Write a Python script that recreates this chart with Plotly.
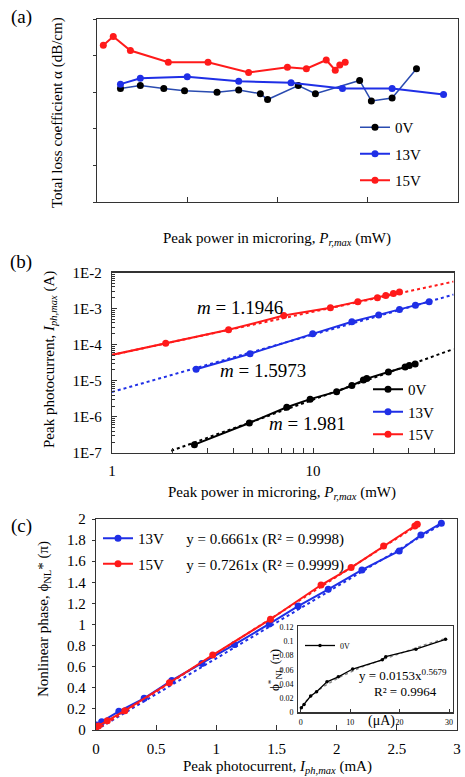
import plotly.graph_objects as go

W, H = 465, 777
def px(x): return x / W
def py(y): return 1 - y / H

# ---------------- data ----------------
a_x_0V = [2.6, 4.8, 7.4, 9.7, 13.3, 15.7, 18.1, 18.9, 22.3, 24.2, 29.1, 30.4, 32.7, 35.4]
a_y_0V = [15.5, 15.9, 15.5, 15.2, 15.0, 15.3, 14.8, 14.0, 15.9, 14.8, 16.6, 13.8, 14.2, 18.2]
a_x_13V = [2.6, 4.8, 10.0, 15.7, 21.5, 27.2, 32.7, 38.4]
a_y_13V = [16.1, 16.9, 17.1, 16.5, 16.3, 15.5, 15.5, 14.7]
a_x_15V = [0.7, 1.8, 3.7, 7.9, 12.3, 16.8, 21.1, 23.2, 25.4, 26.4, 26.9, 27.5]
a_y_15V = [21.4, 22.6, 20.7, 19.1, 19.1, 17.7, 18.4, 18.2, 19.4, 18.0, 18.7, 19.1]
a_xticks = [0, 10, 20, 30, 40]
a_yticks = [0, 5, 10, 15, 20, 25]

b_x_0V = [2.57, 4.82, 7.4, 9.67, 13.1, 15.6, 17.8, 18.5, 23.7, 28.7, 30.1, 32.2]
b_y_0V = [1.7e-7, 6.8e-7, 1.85e-6, 3.1e-6, 5.0e-6, 7.4e-6, 1.05e-5, 1.15e-5, 1.75e-5, 2.43e-5, 2.66e-5, 2.9e-5]
b_x_13V = [2.62, 4.86, 9.96, 15.6, 21.2, 26.9, 32.3, 37.8]
b_y_13V = [2.1e-5, 5.6e-5, 2.0e-4, 4.3e-4, 6.7e-4, 9.5e-4, 1.23e-3, 1.56e-3]
b_x_15V = [0.7, 1.85, 3.8, 7.15, 12.2, 16.7, 20.9, 23.0, 25.1, 26.9]
b_y_15V = [3.4e-5, 1.1e-4, 2.6e-4, 6.4e-4, 1.05e-3, 1.56e-3, 2.0e-3, 2.3e-3, 2.6e-3, 2.9e-3]
b_fit_x_0V = [1.97, 50]
b_fit_y_0V = [1.15e-7, 7.6e-5]
b_fit_x_13V = [1, 50]
b_fit_y_13V = [4.9e-6, 2.45e-3]
b_fit_x_15V = [1, 50]
b_fit_y_15V = [5.2e-5, 5.6e-3]
b_slopes = ["1.1946", "1.5973", "1.981"]
b_yticks = [1e-7, 1e-6, 1e-5, 1e-4, 1e-3, 1e-2]
b_yticktext = ["1E-7", "1E-6", "1E-5", "1E-4", "1E-3", "1E-2"]

c_x_13V = [0.005, 0.047, 0.19, 0.40, 0.63, 0.88, 1.15, 1.44, 1.68, 1.93, 2.21, 2.52, 2.70, 2.87]
c_y_13V = [0.047, 0.079, 0.177, 0.30, 0.47, 0.63, 0.81, 1.005, 1.175, 1.334, 1.517, 1.697, 1.848, 1.96]
c_x_15V = [0.02, 0.094, 0.24, 0.61, 0.97, 1.45, 1.87, 2.12, 2.39, 2.65, 2.67]
c_y_15V = [0.038, 0.088, 0.183, 0.448, 0.71, 1.05, 1.374, 1.54, 1.744, 1.934, 1.95]
c_fit_x_13V = [0, 2.87]
c_fit_y_13V = [0, 1.95]
c_fit_x_15V = [0, 2.67]
c_fit_y_15V = [0, 1.94]

i_x_0V = [0.12, 0.67, 2.0, 3.2, 5.3, 7.6, 10.5, 16.5, 17.2, 23.3, 29.3]
i_y_0V = [0.0065, 0.011, 0.023, 0.029, 0.043, 0.050, 0.061, 0.074, 0.0785, 0.089, 0.103]
i_fit_x = [1, 3, 5, 8, 12, 16, 20, 25, 29.3]
i_fit_y = [0.0153, 0.0285, 0.038, 0.050, 0.063, 0.073, 0.083, 0.095, 0.104]

RED = "#ff1a1a"
BLUE = "#1f2fe6"
NAVY = "#2a4bb0"
FONT = "Liberation Serif"

fig = go.Figure()

# panel (a)
fig.add_trace(go.Scatter(x=a_x_0V, y=a_y_0V, mode="lines+markers", name="0V",
    line=dict(color=NAVY, width=1.5), marker=dict(color="black", size=7),
    xaxis="x", yaxis="y", legend="legend", legendgroup="a0"))
fig.add_trace(go.Scatter(x=a_x_13V, y=a_y_13V, mode="lines+markers", name="13V",
    line=dict(color=BLUE, width=2), marker=dict(color=BLUE, size=7),
    xaxis="x", yaxis="y", legend="legend", legendgroup="a13"))
fig.add_trace(go.Scatter(x=a_x_15V, y=a_y_15V, mode="lines+markers", name="15V",
    line=dict(color=RED, width=2), marker=dict(color=RED, size=7),
    xaxis="x", yaxis="y", legend="legend", legendgroup="a15"))
# panel (a) tick labels, set on the panel's own scales just outside its frame
fig.add_trace(go.Scatter(x=[-0.9] * len(a_yticks), y=a_yticks, mode="text",
    text=[str(v) for v in a_yticks], textposition="middle left",
    textfont=dict(family=FONT, size=15, color="black"), cliponaxis=False,
    showlegend=False, hoverinfo="skip", xaxis="x", yaxis="y"))
fig.add_trace(go.Scatter(x=a_xticks, y=[-2.3] * len(a_xticks), mode="text",
    text=[str(v) for v in a_xticks], textposition="middle center",
    textfont=dict(family=FONT, size=15, color="black"), cliponaxis=False,
    showlegend=False, hoverinfo="skip", xaxis="x", yaxis="y"))

# panel (b)
for fx, fy, col in [(b_fit_x_0V, b_fit_y_0V, "black"), (b_fit_x_13V, b_fit_y_13V, BLUE),
                    (b_fit_x_15V, b_fit_y_15V, RED)]:
    fig.add_trace(go.Scatter(x=fx, y=fy, mode="lines", line=dict(color=col, width=2, dash="dot"),
        showlegend=False, hoverinfo="skip", xaxis="x2", yaxis="y2"))
fig.add_trace(go.Scatter(x=b_x_0V, y=b_y_0V, mode="lines+markers", name="0V",
    line=dict(color="black", width=2), marker=dict(color="black", size=7),
    xaxis="x2", yaxis="y2", legend="legend2", legendgroup="b0"))
fig.add_trace(go.Scatter(x=b_x_13V, y=b_y_13V, mode="lines+markers", name="13V",
    line=dict(color=BLUE, width=2), marker=dict(color=BLUE, size=7),
    xaxis="x2", yaxis="y2", legend="legend2", legendgroup="b13"))
fig.add_trace(go.Scatter(x=b_x_15V, y=b_y_15V, mode="lines+markers", name="15V",
    line=dict(color=RED, width=2), marker=dict(color=RED, size=7),
    xaxis="x2", yaxis="y2", legend="legend2", legendgroup="b15"))

# panel (c)
for fx, fy, col in [(c_fit_x_13V, c_fit_y_13V, BLUE), (c_fit_x_15V, c_fit_y_15V, RED)]:
    fig.add_trace(go.Scatter(x=fx, y=fy, mode="lines", line=dict(color=col, width=2, dash="dot"),
        showlegend=False, hoverinfo="skip", xaxis="x3", yaxis="y3"))
sp = "\u2003\u2002"
fig.add_trace(go.Scatter(x=c_x_13V, y=c_y_13V, mode="lines+markers",
    name="13V" + sp + "y = 0.6661x (R² = 0.9998)",
    line=dict(color=BLUE, width=2), marker=dict(color=BLUE, size=7),
    xaxis="x3", yaxis="y3", legend="legend3", legendgroup="c13"))
fig.add_trace(go.Scatter(x=c_x_15V, y=c_y_15V, mode="lines+markers",
    name="15V" + sp + "y = 0.7261x (R² = 0.9999)",
    line=dict(color=RED, width=2), marker=dict(color=RED, size=7),
    xaxis="x3", yaxis="y3", legend="legend3", legendgroup="c15"))

# inset
fig.add_trace(go.Scatter(x=i_fit_x, y=i_fit_y, mode="lines", line=dict(color="#888", width=1.5, dash="dot"),
    showlegend=False, hoverinfo="skip", xaxis="x4", yaxis="y4"))
fig.add_trace(go.Scatter(x=i_x_0V, y=i_y_0V, mode="lines+markers", name="0V",
    line=dict(color="black", width=1.3), marker=dict(color="black", size=3.5),
    xaxis="x4", yaxis="y4", legend="legend4"))

axcommon = dict(showline=True, linecolor="#333", linewidth=1.3, mirror=True, showgrid=False,
                zeroline=False, automargin=False, tickcolor="#333", ticklabeloverflow="allow",
                tickfont=dict(family=FONT, size=15, color="black"))
insetax = dict(showline=True, linecolor="#333", linewidth=1.2, mirror=True, showgrid=False,
               zeroline=False, automargin=False, tickcolor="#333", ticklabeloverflow="allow",
               tickfont=dict(family=FONT, size=8, color="black"))

fig.update_layout(
    template="none",
    width=W, height=H, margin=dict(l=0, r=0, t=0, b=0, pad=0, autoexpand=False),
    paper_bgcolor="white", plot_bgcolor="rgba(0,0,0,0)",
    font=dict(family=FONT, size=15, color="black"),
    xaxis=dict(domain=[px(97), px(458)], range=[0, 40], tickmode="array", tickvals=a_xticks,
               ticks="inside", ticklen=5, showticklabels=False, anchor="y", **axcommon),
    yaxis=dict(domain=[py(202), py(19)], range=[0, 25], tickmode="array", tickvals=a_yticks,
               ticks="outside", ticklen=3, showticklabels=False, anchor="x", **axcommon),
    xaxis2=dict(domain=[px(112), px(453.6)], type="log", range=[0, 1.69897], ticks="inside",
                ticklen=5, tickvals=[1, 10], ticktext=["1", "10"], ticklabelstandoff=4,
                minor=dict(ticks="inside", ticklen=5, tickvals=[2, 3, 4, 5, 6, 7, 8, 9, 20, 30, 40],
                           tickcolor="#333"),
                anchor="y2", **axcommon),
    yaxis2=dict(domain=[py(453), py(272.5)], type="log", range=[-7, -2], ticks="inside", ticklen=5,
                tickvals=b_yticks, ticktext=b_yticktext, ticklabelstandoff=6,
                minor=dict(ticks="inside", ticklen=3, dtick="D1", tickcolor="#333"),
                anchor="x2", **axcommon),
    xaxis3=dict(domain=[px(96), px(457)], range=[0, 3], dtick=0.5, ticks="inside", ticklen=5,
                ticklabelstandoff=5, anchor="y3", **axcommon),
    yaxis3=dict(domain=[py(730), py(519)], range=[0, 2], dtick=0.2, ticks="outside", ticklen=3,
                ticklabelstandoff=3, anchor="x3", **axcommon),
    xaxis4=dict(domain=[px(298.3), px(453)], range=[-0.5, 30.8], tickvals=[0, 10, 20, 30],
                ticks="inside", ticklen=3, ticklabelstandoff=2, anchor="y4", **insetax),
    yaxis4=dict(domain=[py(712.3), py(626)], range=[0, 0.1217],
                tickvals=[0, 0.02, 0.04, 0.06, 0.08, 0.1, 0.12],
                ticktext=["0", "0.02", "0.04", "0.06", "0.08", "0.1", "0.12"],
                ticks="", ticklabelstandoff=2, anchor="x4", **insetax),
    legend=dict(x=px(355), y=py(111), xanchor="left", yanchor="top", bgcolor="rgba(0,0,0,0)",
                font=dict(family=FONT, size=15), tracegroupgap=4),
    legend2=dict(x=px(368), y=py(373), xanchor="left", yanchor="top", bgcolor="rgba(0,0,0,0)",
                 font=dict(family=FONT, size=15), tracegroupgap=0),
    legend3=dict(x=px(98), y=py(522), xanchor="left", yanchor="top", bgcolor="rgba(0,0,0,0)",
                 font=dict(family=FONT, size=15), tracegroupgap=3),
    legend4=dict(x=px(300), y=py(631), xanchor="left", yanchor="top", bgcolor="rgba(0,0,0,0)",
                 font=dict(family=FONT, size=8)),
)

ann = []
def A(x, y, text, size=15, angle=0, **kw):
    ann.append(dict(x=px(x), y=py(y), xref="paper", yref="paper", text=text, showarrow=False,
                    textangle=angle, xanchor="center", yanchor="middle",
                    font=dict(family=FONT, size=size, color="black"), **kw))

A(21, 17, "(a)", 19)
A(21, 262, "(b)", 19)
A(21, 526, "(c)", 19)
A(57, 113, "Total loss coefficient α (dB/cm)", 15, -90)
A(277, 239, "Peak power in microring, <i>P<sub>r,max</sub></i> (mW)", 15)
A(50, 360, "Peak photocurrent, <i>I<sub>ph,max</sub></i> (A)", 15, -90)
A(282, 493, "Peak power in microring, <i>P<sub>r,max</sub></i> (mW)", 15)
A(44, 619, "Nonlinear phase, ϕ<sub>NL</sub>* (π)", 15, -90)
A(277, 767, "Peak photocurrent, <i>I<sub>ph,max</sub></i> (mA)", 15)
A(240, 308, "<i>m</i> = " + b_slopes[0], 19)
A(263, 370, "<i>m</i> = " + b_slopes[1], 19)
A(307, 423, "<i>m</i> = " + b_slopes[2], 19)
A(275, 670, "ϕ<sup>*</sup><sub>NL</sub> (π)", 13, -90)
A(381, 721, "(μA)", 14)
A(403, 675, "y = 0.0153x<sup>0.5679</sup>", 13)
A(405, 691, "R² = 0.9964", 13)
fig.update_layout(annotations=ann)

fig.write_html("out.html", config={"staticPlot": True, "displayModeBar": False})
